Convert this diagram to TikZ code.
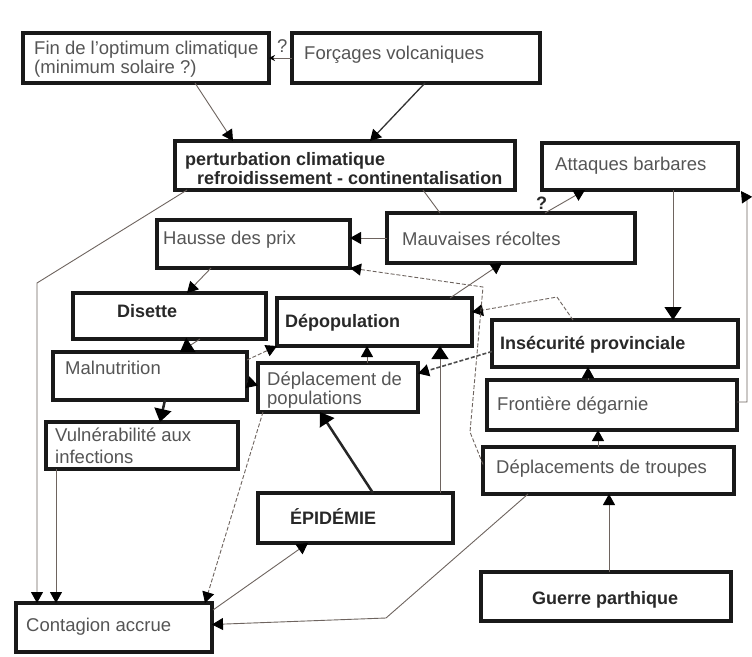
\documentclass[tikz,border=0pt]{standalone}
\usepackage{fontspec}
\setmainfont{Liberation Sans}
\usetikzlibrary{arrows.meta,calc}
\definecolor{lnc}{RGB}{110,100,95}
\definecolor{txg}{RGB}{85,85,85}
\definecolor{txb}{RGB}{40,40,40}
\newcommand{\mkbox}[5]{\node[box, minimum width={(#4-#2)*1pt}, minimum height={(#5-#3)*1pt}] (#1) at ({(#2+#4)/2},{(#3+#5)/2}) {};}
\begin{document}
\begin{tikzpicture}[x=1pt,y=-1pt,
  box/.style={draw=black!90, line width=3.2pt, inner sep=0pt, outer sep=0pt, fill=white},
  tx/.style={anchor=base west, inner sep=0pt, font=\fontsize{18.5}{20}\selectfont, text=txg},
  tb/.style={anchor=base west, inner sep=0pt, font=\fontsize{18}{20}\selectfont\bfseries, text=txb},
  con/.style={draw=lnc, line width=0.9pt},
  thick con/.style={draw=black!85, line width=2.5pt},
  dcon/.style={con, dash pattern=on 4pt off 2pt},
  tip/.style={-{Triangle[length=11pt,width=12pt,color=black]}},
  bigtip/.style={-{Triangle[length=13pt,width=17pt,color=black]}},
  smalltip/.style={-{Stealth[length=6pt,width=6pt,color=black]}}
]
\useasboundingbox (0,0) rectangle (752,656);
\fill[white] (0,0) rectangle (752,656);

% boxes
\mkbox{fin}{23}{33}{269}{83}
\mkbox{forc}{292}{33}{540}{83}
\mkbox{pert}{175}{141}{515}{190}
\mkbox{att}{542}{143}{738}{190}
\mkbox{hausse}{157}{220}{350}{268}
\mkbox{mauv}{387}{213}{635}{263}
\mkbox{disette}{73}{293}{266}{339}
\mkbox{depop}{277}{298}{472}{346}
\mkbox{insec}{492}{320}{738}{367}
\mkbox{malnut}{53}{352}{247}{400}
\mkbox{deplpop}{258}{363}{418}{412}
\mkbox{frontiere}{487}{380}{737}{430}
\mkbox{vuln}{46}{422}{238}{469}
\mkbox{deptroupes}{483}{447}{734}{494}
\mkbox{epid}{258}{493}{453}{543}
\mkbox{guerre}{481}{572}{731}{621}
\mkbox{contag}{16}{603}{212}{652}

% texts
\node[tx] (finA) at (34,54) {Fin de l'optimum climatique};
\node[tx] (finB) at (34,73) {(minimum solaire ?)};
\node[tx] (forcT) at (304,59) {Forçages volcaniques};
\node[tb] (pertA) at (185,165) {perturbation climatique};
\node[tb] (pertB) at (197,184) {refroidissement - continentalisation};
\node[tx] (attT) at (555,170) {Attaques barbares};
\node[tx] (hausseT) at (163,244) {Hausse des prix};
\node[tx] (mauvT) at (402,245) {Mauvaises récoltes};
\node[tb] (disetteT) at (117,317) {Disette};
\node[tb] (depopT) at (285,327) {Dépopulation};
\node[tb] (insecT) at (500,349) {Insécurité provinciale};
\node[tx] (malnutT) at (65,374) {Malnutrition};
\node[tx] (deplpopA) at (267,385) {Déplacement de};
\node[tx] (deplpopB) at (267,404) {populations};
\node[tx] (frontiereT) at (497,410) {Frontière dégarnie};
\node[tx] (vulnA) at (55,441) {Vulnérabilité aux};
\node[tx] (vulnB) at (55,463) {infections};
\node[tx] (deptroupesT) at (496,473) {Déplacements de troupes};
\node[tb] (epidT) at (290,524) {ÉPIDÉMIE};
\node[tb] (guerreT) at (532,604) {Guerre parthique};
\node[tx] (contagT) at (26,631) {Contagion accrue};
\node[tx] (q1) at (277,52) {?};
\node[tb] (q2) at (536,209) {?};

% connectors
\draw[con,smalltip] (forc.west) -- (fin.east);
\draw[con,tip] ($(fin.south west)+(172,0)$) -- ($(pert.north west)+(58,0)$);
\draw[con,line width=1.3pt,draw=black!80,tip] ($(forc.south west)+(133,0)$) -- ($(pert.north west)+(195,0)$);
\draw[con,tip] ($(pert.south west)+(12,0)$) -- (37,283) -- ($(contag.north west)+(21,0)$);
\draw[con,tip] ($(vuln.south west)+(10,0)$) -- ($(contag.north west)+(40,0)$);
\draw[con] ($(pert.south west)+(248,0)$) -- ($(mauv.north west)+(53,0)$);
\draw[con,tip] ($(mauv.north west)+(158,0)$) -- ($(att.south west)+(43,0)$);
\draw[con,tip] (mauv.west) -- (hausse.east |- mauv.west);
\draw[con,tip] ($(hausse.south west)+(54,0)$) -- ($(disette.north west)+(114,0)$);
\draw[con,bigtip] ($(disette.south west)+(127,0)$) -- ($(malnut.north west)+(127,0)$);
\draw[thick con,bigtip] ($(malnut.south west)+(112,0)$) -- ($(vuln.north west)+(114,0)$);
\draw[con,tip] ($(malnut.east)+(0,6)$) -- ($(deplpop.west)+(0,-2)$);
\draw[dcon,tip] ($(malnut.north east)+(0,8)$) -- (depop.south west);
\draw[con,tip] ($(deplpop.north west)+(109,0)$) -- ($(depop.south west)+(90,0)$);
\draw[con,bigtip] ($(epid.north west)+(182,0)$) -- ($(depop.south west)+(163,0)$);
\draw[thick con,bigtip] ($(epid.north west)+(115,0)$) -- ($(deplpop.south west)+(62,0)$);
\draw[con,tip] ($(contag.north east)+(1,7)$) -- ($(epid.south west)+(50,0)$);
\draw[dcon,tip] ($(deplpop.south west)+(5,0)$) -- ($(contag.north east)+(-7,0)$);
\draw[con,tip] ($(deptroupes.south west)+(45,0)$) -- (386,618) -- ($(contag.east)+(0,-3)$);
\draw[con,tip] ($(guerre.north west)+(128,0)$) -- ($(deptroupes.south west)+(126,0)$);
\draw[con,tip] ($(deptroupes.north west)+(115,0)$) -- ($(frontiere.south west)+(111,0)$);
\draw[con,tip] ($(frontiere.north west)+(101,0)$) -- ($(insec.south west)+(96,0)$);
\draw[con,tip] ($(frontiere.east)+(0,-3)$) -- (747,402) -- (747,200) -- ($(att.south east)+(3,1)$);
\draw[con,bigtip] ($(att.south west)+(131,0)$) -- ($(insec.north west)+(181,0)$);
\draw[dcon,line width=1.6pt,draw=black!70,tip] ($(insec.west)+(0,8)$) -- ($(deplpop.east)+(0,-14)$);
\draw[dcon,tip] ($(insec.north west)+(81,0)$) -- (557,297) -- ($(depop.east)+(0,-10)$);
\draw[con,tip] ($(depop.north west)+(173,0)$) -- ($(mauv.south west)+(115,0)$);
\draw[dcon,tip] ($(deptroupes.west)+(0,-6)$) -- (470,432) -- (483,287) -- (hausse.south east);
\end{tikzpicture}
\end{document}
